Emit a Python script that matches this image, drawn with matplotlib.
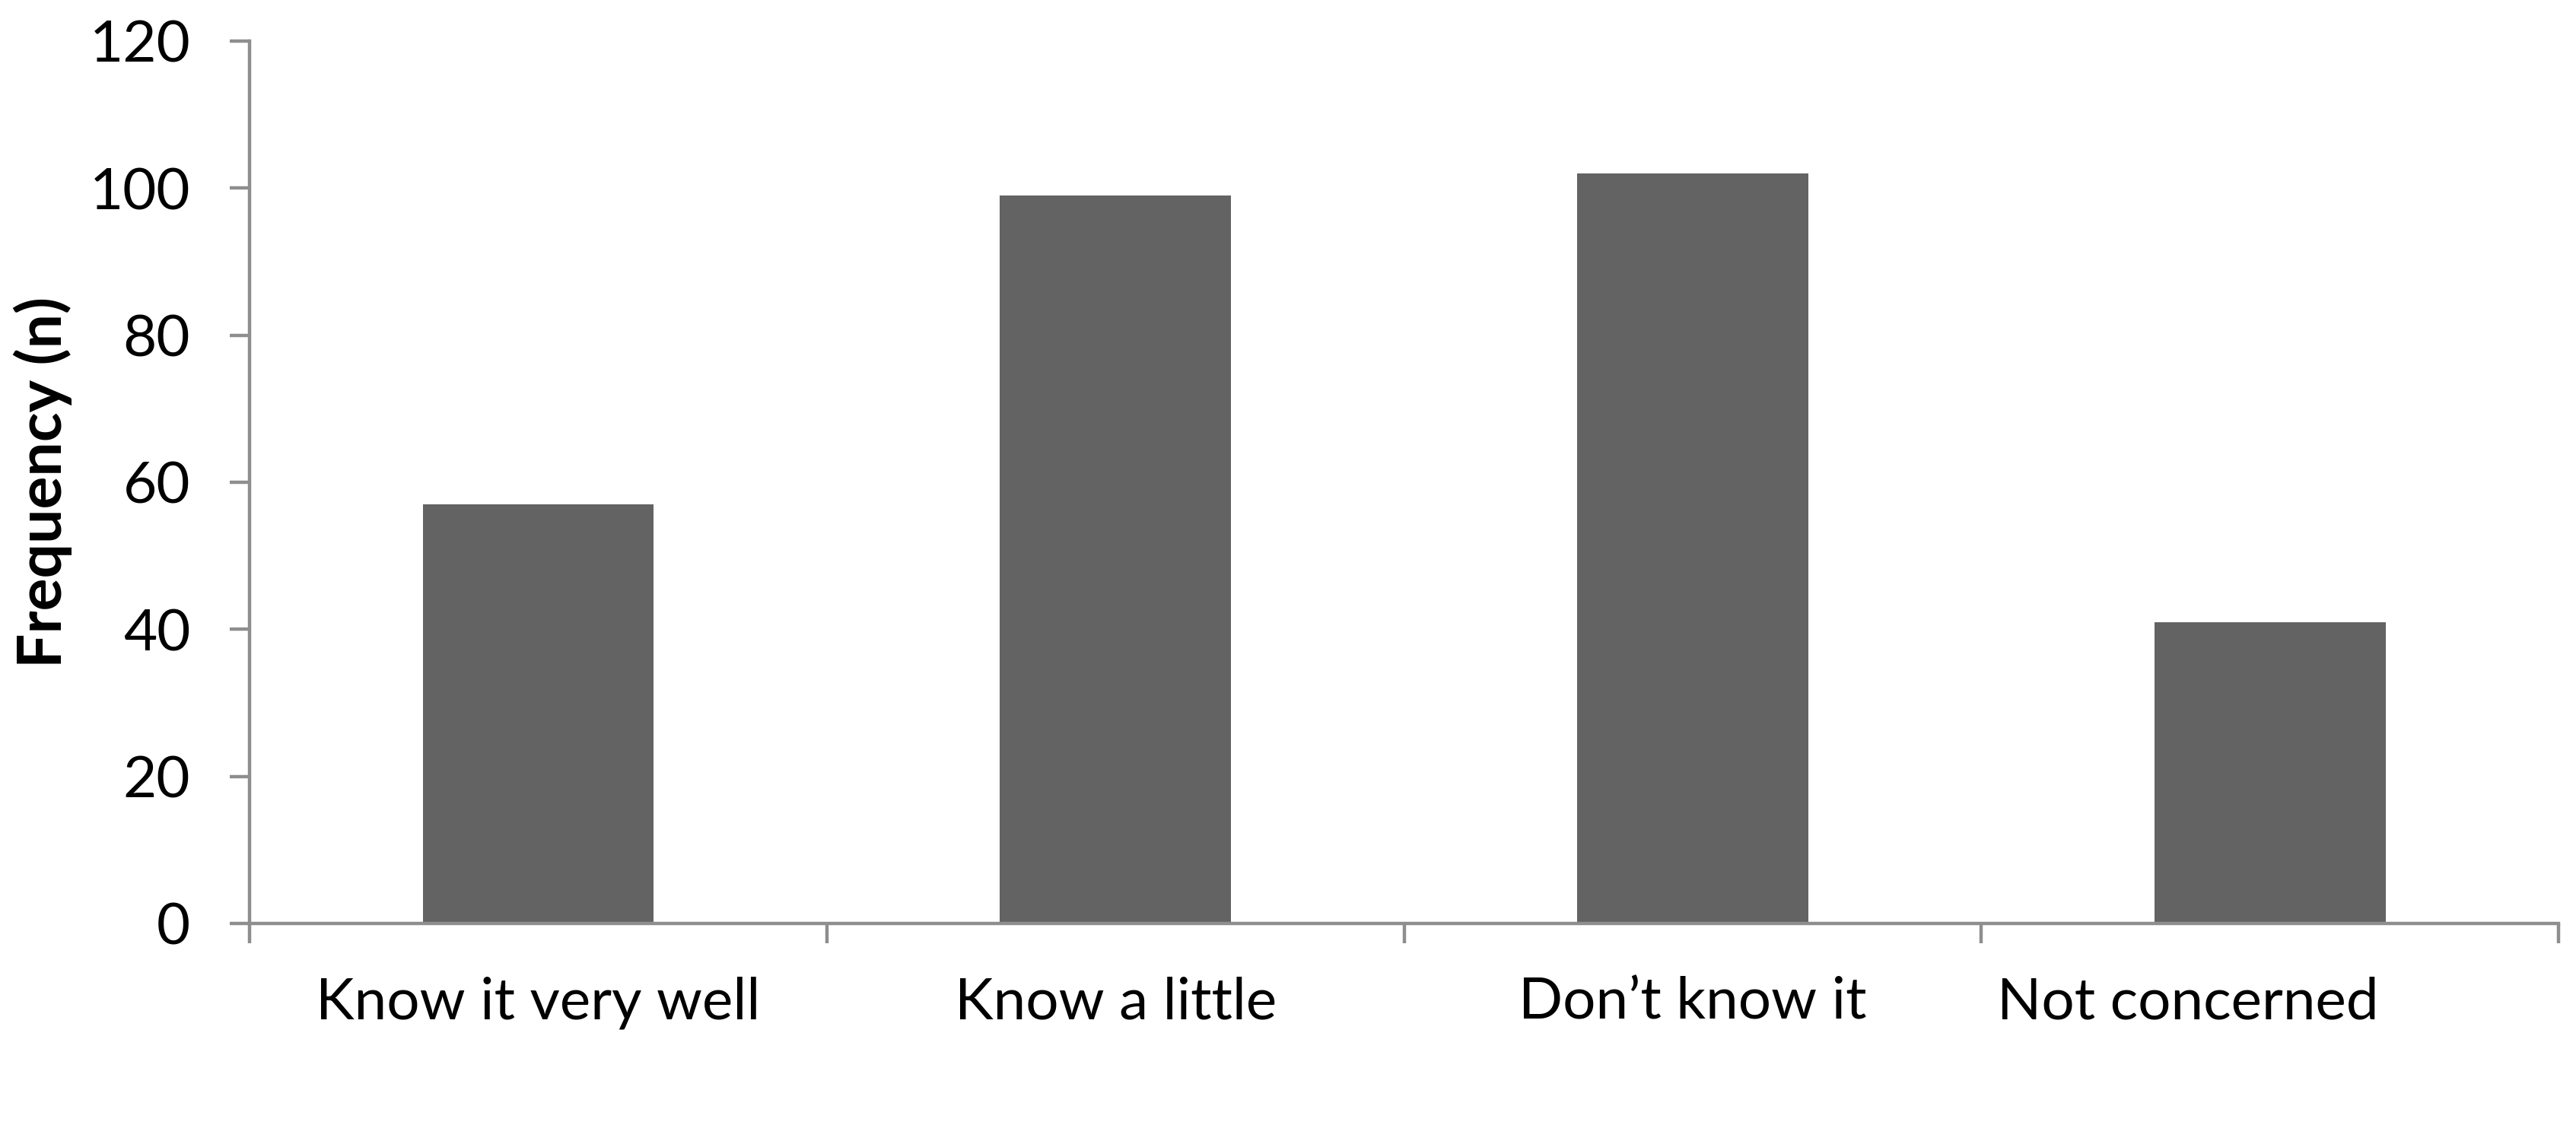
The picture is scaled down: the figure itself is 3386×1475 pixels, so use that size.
import matplotlib.pyplot as plt
import numpy as np
from matplotlib.ticker import FixedLocator, NullFormatter
from matplotlib.transforms import ScaledTranslation

categories = ["Know it very well", "Know a little", "Don\u2019t know it", "Not concerned"]
frequency = [57, 99, 102, 41]
y_ticks = [0, 20, 40, 60, 80, 100, 120]

BAR_COLOR = "#636363"
AXIS_COLOR = "#8e8e8e"

plt.rcParams["font.family"] = ["Lato", "DejaVu Sans"]


def main():
    fig = plt.figure(figsize=(33.87, 14.75), dpi=100)
    ax = fig.add_axes([0.0968, 0.177, 0.8962, 0.7864])

    x = np.arange(len(categories))
    ax.bar(x, frequency, width=0.4, color=BAR_COLOR, zorder=2)

    ax.set_xlim(-0.5, len(categories) - 0.5)
    ax.set_ylim(0, 120)
    ax.set_yticks(y_ticks)
    ax.set_yticklabels([str(t) for t in y_ticks])

    # boundary ticks on x, labels sit at the centres on minor ticks
    ax.xaxis.set_major_locator(FixedLocator(np.arange(len(categories) + 1) - 0.5))
    ax.xaxis.set_major_formatter(NullFormatter())
    ax.xaxis.set_minor_locator(FixedLocator(x))
    ax.set_xticklabels(categories, minor=True)

    for side in ("top", "right"):
        ax.spines[side].set_visible(False)
    for side in ("left", "bottom"):
        ax.spines[side].set_color(AXIS_COLOR)
        ax.spines[side].set_linewidth(3.2)

    ax.tick_params(axis="y", which="major", direction="out", length=19, width=3.2,
                   color=AXIS_COLOR, labelsize=55, pad=37)
    ax.tick_params(axis="x", which="major", direction="out", length=19, width=3.2,
                   color=AXIS_COLOR)
    ax.tick_params(axis="x", which="minor", length=0, labelsize=55, pad=50)

    # last label sits left of its bar in the original (trailing blanks there)
    last = ax.get_xticklabels(minor=True)[-1]
    last.set_transform(last.get_transform() + ScaledTranslation(-1.08, 0, fig.dpi_scale_trans))

    ax.set_ylabel("Frequency (n)", fontsize=58, fontweight="bold")
    ax.yaxis.set_label_coords(-0.0894, 0.5)
    ax.yaxis.label.set_va("center")

    fig.savefig("out.png", dpi=100)


if __name__ == "__main__":
    main()
